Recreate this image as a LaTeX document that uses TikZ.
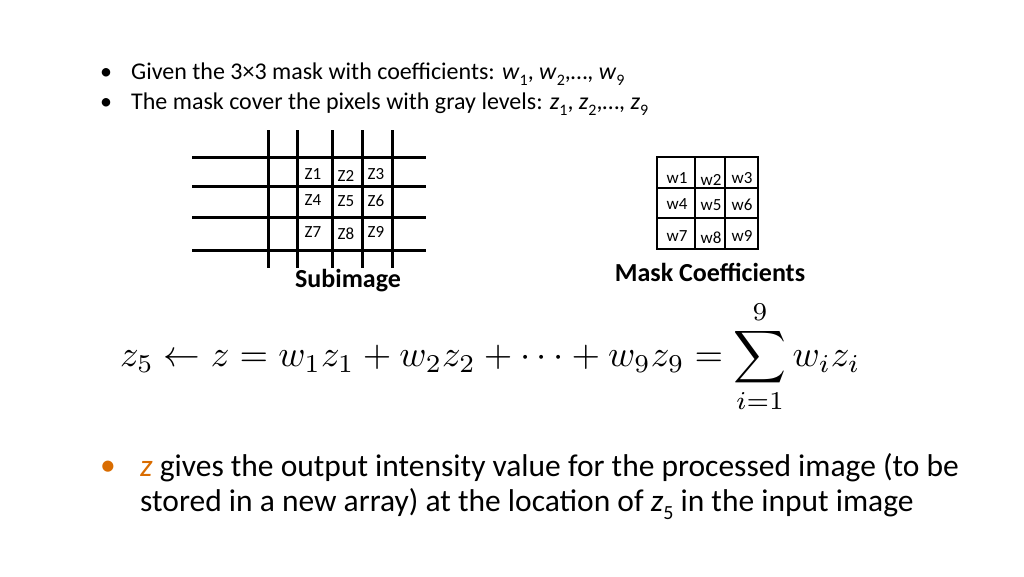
\documentclass[tikz,border=0pt]{standalone}
\usepackage{graphicx}
\usepackage{fontspec}
\setmainfont{Carlito}
\newcommand{\sbs}[1]{\raisebox{-0.25em}{\fontsize{16}{16}\selectfont #1}}
\newcommand{\sbb}[1]{\raisebox{-0.25em}{\fontsize{20}{20}\selectfont #1}}
\begin{document}
\begin{tikzpicture}[x=1pt,y=-1pt,
  ln/.style={line width=3pt},
  ml/.style={line width=2.8pt},
  cell/.style={font=\fontsize{17}{17}\selectfont,inner sep=0pt},
  lab/.style={inner sep=0pt,font=\fontsize{26}{26}\selectfont\bfseries},
  txt/.style={anchor=west,inner sep=0pt,font=\fontsize{24}{28}\selectfont},
  big/.style={anchor=west,inner sep=0pt,font=\fontsize{31.5}{36}\selectfont}]
\useasboundingbox (0,0) rectangle (1024,576);
\node[txt] (b1) at (100,74) {•};
\node[txt] (t1) at (131,74) {Given the 3×3 mask with coefficients: \textit{w}\sbs{1}, \textit{w}\sbs{2},…, \textit{w}\sbs{9}};
\node[txt] (b2) at (100,104) {•};
\node[txt] (t2) at (131,104) {The mask cover the pixels with gray levels: \textit{z}\sbs{1}, \textit{z}\sbs{2},…, \textit{z}\sbs{9}};
% subimage grid
\foreach \x in {268,297,332,362,392} \draw[ln] (\x,130) -- (\x,268);
\foreach \y in {157,186,217,250} \draw[ln] (192,\y) -- (426,\y);
\node[cell] (z1) at (313,174) {Z1}; \node[cell] (z2) at (346,176) {Z2}; \node[cell] (z3) at (376,174) {Z3};
\node[cell] (z4) at (313,200) {Z4}; \node[cell] (z5) at (346,201) {Z5}; \node[cell] (z6) at (376,201) {Z6};
\node[cell] (z7) at (313,232) {Z7}; \node[cell] (z8) at (346,234) {Z8}; \node[cell] (z9) at (376,232) {Z9};
\node[lab] (sub) at (348,281) {Subimage};
% mask
\draw[ml] (657,157) rectangle (758,249);
\foreach \x in {695,725} \draw[ml] (\x,157) -- (\x,249);
\foreach \y in {188,218} \draw[ml] (657,\y) -- (758,\y);
\node[cell] (w1) at (677,178) {w1}; \node[cell] (w2) at (711,180) {w2}; \node[cell] (w3) at (742,178) {w3};
\node[cell] (w4) at (677,204) {w4}; \node[cell] (w5) at (711,205) {w5}; \node[cell] (w6) at (742,205) {w6};
\node[cell] (w7) at (677,236) {w7}; \node[cell] (w8) at (711,238) {w8}; \node[cell] (w9) at (742,236) {w9};
\node[lab] (mc) at (710,272) {Mask Coefficients};
% equation
\node[inner sep=0pt,anchor=west] (eq) at (120,357)
 {\resizebox{740pt}{!}{$\displaystyle z_5 \leftarrow z = w_1z_1 + w_2z_2 + \cdots + w_9z_9 = \sum_{i=1}^{9} w_iz_i$}};
% bottom bullet
\node[big,text=orange!85!black] (b3) at (100,468) {•};
\node[big] (t3) at (140,468) {\textcolor{orange!85!black}{\textit{z}} gives the output intensity value for the processed image (to be};
\node[big] (t4) at (140,504) {stored in a new array) at the location of \textit{z}\sbb{5} in the input image};
\end{tikzpicture}
\end{document}
